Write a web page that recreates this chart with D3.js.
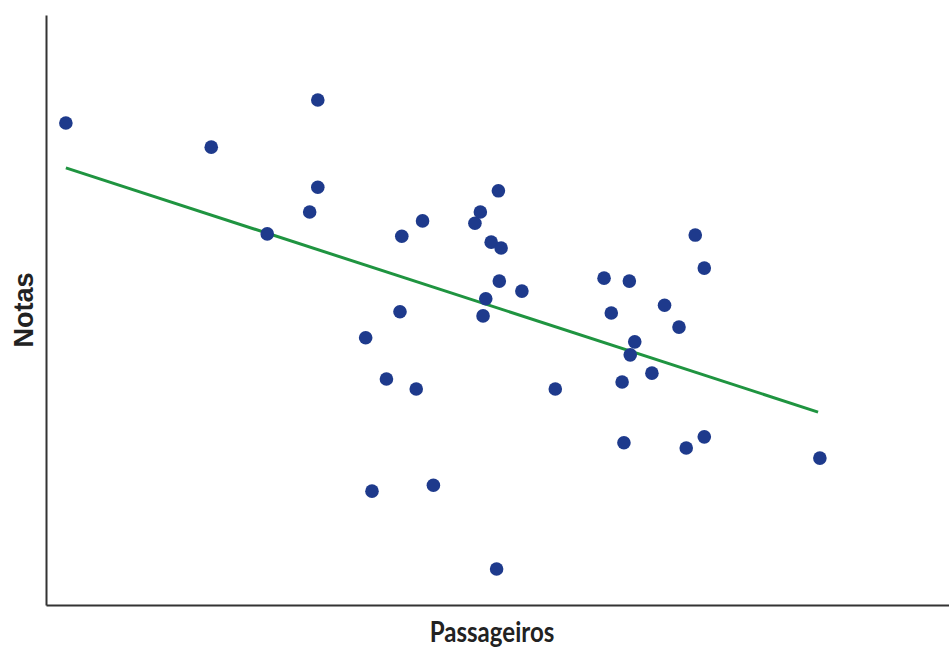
<!DOCTYPE html>
<html>
<head>
<meta charset="utf-8">
<script src="https://cdn.jsdelivr.net/npm/d3@7"></script>
<style>
  body { margin: 0; background: #fff; }
  svg { display: block; }
</style>
</head>
<body>
<div id="chart"></div>
<script>
// passageiros (x) and notas (y)
const passageiros = [2.2, 18.3, 30.1, 30.1, 29.2, 24.5, 39.4, 41.7, 47.5, 48.1,
  50.1, 49.3, 50.4, 50.2, 52.7, 48.7, 48.4, 39.2, 35.4, 37.7,
  41.0, 56.4, 36.1, 42.9, 49.9, 61.8, 64.6, 71.9, 72.9, 62.6,
  68.5, 70.1, 65.2, 64.7, 67.1, 63.8, 64.0, 70.9, 72.9, 85.7];
const notas = [81.7, 77.6, 85.6, 70.8, 66.6, 62.9, 62.5, 65.1, 64.7, 66.6,
  70.2, 61.5, 60.5, 54.9, 53.2, 51.9, 49.0, 49.7, 45.3, 38.3,
  36.6, 36.6, 19.3, 20.3, 6.1, 55.4, 54.9, 62.7, 57.1, 49.5,
  50.8, 47.1, 44.6, 42.4, 39.3, 37.8, 27.5, 26.6, 28.5, 24.9];

// trend line end points
const trendX = [2.2, 85.5];
const trendY = [74.1, 32.7];

const width = 949, height = 648;
const margin = { top: 15, right: 0, bottom: 43, left: 46 };

const svg = d3.select('#chart')
  .append('svg')
  .attr('width', width)
  .attr('height', height);

const x = d3.scaleLinear()
  .domain([0, 100])
  .range([margin.left, width - margin.right]);

const y = d3.scaleLinear()
  .domain([0, 100])
  .range([height - margin.bottom, margin.top]);

// axes: plain lines, no ticks
svg.append('g')
  .attr('transform', 'translate(0,' + (height - margin.bottom) + ')')
  .call(d3.axisBottom(x).ticks(0).tickSizeOuter(0))
  .select('.domain')
  .attr('stroke', '#333')
  .attr('stroke-width', 2);

svg.append('g')
  .attr('transform', 'translate(' + margin.left + ',0)')
  .call(d3.axisLeft(y).ticks(0).tickSizeOuter(0))
  .select('.domain')
  .attr('stroke', '#333')
  .attr('stroke-width', 2);

// trend line
const line = d3.line()
  .x(function(d) { return x(d[0]); })
  .y(function(d) { return y(d[1]); });

svg.append('path')
  .datum(d3.zip(trendX, trendY))
  .attr('d', line)
  .attr('fill', 'none')
  .attr('stroke', '#1f9440')
  .attr('stroke-width', 3);

// points
svg.selectAll('circle')
  .data(d3.zip(passageiros, notas))
  .enter()
  .append('circle')
  .attr('cx', function(d) { return x(d[0]); })
  .attr('cy', function(d) { return y(d[1]); })
  .attr('r', 6.8)
  .attr('fill', '#1e3a8c');

// axis titles
svg.append('text')
  .attr('transform', 'translate(492,642) scale(0.86,1)')
  .attr('text-anchor', 'middle')
  .attr('font-family', 'Lato, sans-serif')
  .attr('font-weight', 'bold')
  .attr('font-size', 28)
  .attr('fill', '#222')
  .text('Passageiros');

svg.append('text')
  .attr('transform', 'translate(33,310) rotate(-90)')
  .attr('text-anchor', 'middle')
  .attr('font-family', '"Liberation Sans", Arial, sans-serif')
  .attr('font-weight', 'bold')
  .attr('font-size', 27)
  .attr('fill', '#222')
  .text('Notas');
</script>
</body>
</html>
